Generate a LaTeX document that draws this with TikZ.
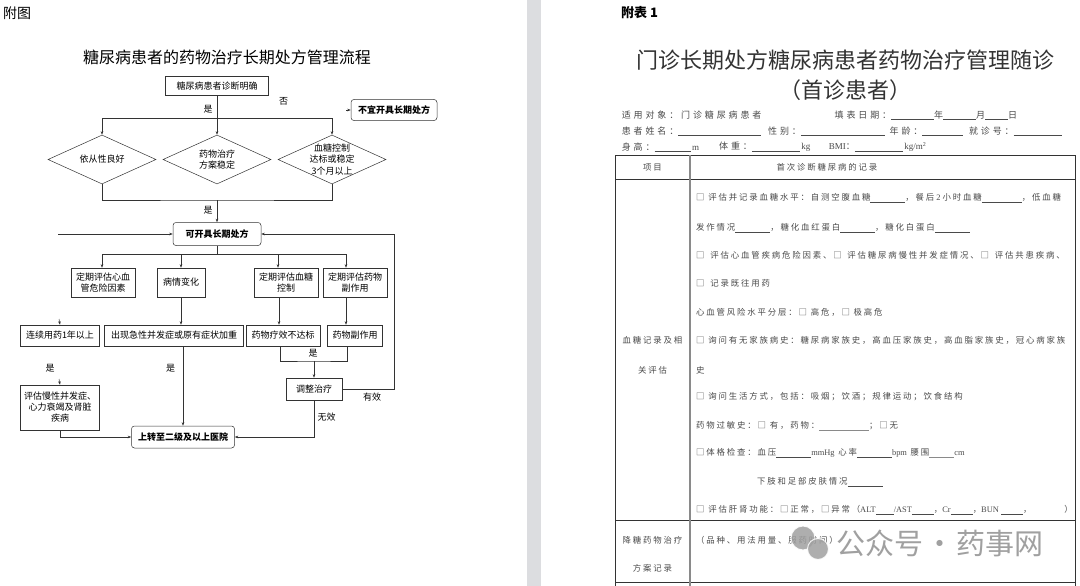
\documentclass[tikz,border=0pt]{standalone}
\usepackage{fontspec}
\setmainfont{Noto Sans CJK SC}
\newfontfamily\formfont[LetterSpace=22]{Noto Sans CJK SC}
\newfontfamily\infofont[LetterSpace=32]{Noto Sans CJK SC}
\newfontfamily\latinfont{Liberation Serif}
\usepackage{xcolor}
\usetikzlibrary{arrows.meta,positioning,shapes.geometric,calc}
\definecolor{sepgray}{HTML}{DCDDE0}
\definecolor{inkgray}{HTML}{333333}
\definecolor{formgray}{HTML}{4A4A4A}
\definecolor{colgray}{HTML}{8A8A8A}
\definecolor{wmgray}{HTML}{A0A0A0}
\newcommand{\blank}[1]{\rule[-1.5pt]{#1pt}{0.6pt}}
\newcommand{\lat}[1]{{\latinfont #1}}

\begin{document}
\begin{tikzpicture}[x=1pt,y=-1pt,
  every node/.style={font=\fontsize{9}{11}\selectfont, text=black},
  >={Stealth[length=3.5pt,width=2.6pt]},
  link/.style={draw=inkgray, line width=0.5pt},
  arrow/.style={link, ->},
  flowbox/.style={draw=inkgray, line width=0.5pt, align=center, inner sep=1pt},
  roundbox/.style={flowbox, rounded corners=3pt, font=\fontsize{9}{11}\selectfont\bfseries},
  decision/.style={diamond, draw=inkgray, line width=0.5pt, inner sep=0pt, minimum width=108pt, minimum height=49pt},
  dtext/.style={align=center, inner sep=0pt, font=\fontsize{9}{11.5}\selectfont},
  lbl/.style={inner sep=0pt},
  info/.style={anchor=west, inner sep=0pt, text=formgray, font=\fontsize{9}{11}\infofont},
  cell/.style={inner sep=0pt, text=formgray, font=\fontsize{8.4}{10}\formfont},
  rowtext/.style={cell, anchor=west},
  watermark/.style={anchor=west, inner sep=0pt, text=wmgray, font=\fontsize{29}{32}\selectfont}]

\fill[white] (0,0) rectangle (1080,586);
\fill[sepgray] (527,0) rectangle (541,586);
\useasboundingbox (0,0) rectangle (1080,586);

\node[lbl, anchor=west, font=\fontsize{14}{16}\selectfont] (fig) at (3,13) {附图};
\node[lbl, font=\fontsize{16}{18}\selectfont] (ctitle) at (227,57) {糖尿病患者的药物治疗长期处方管理流程};

\node[flowbox, minimum width=103pt, minimum height=19pt] (diag) at (217,86) {糖尿病患者诊断明确};
\node[roundbox, minimum width=86pt, minimum height=21pt] (no) at (394,110) {不宜开具长期处方};
\node[lbl] (yes1) at (208,109) {是};
\node[lbl] (no1) at (283.5,101) {否};

\node[decision, label={[dtext]center:依从性良好}] (d1) at (102,159.5) {};
\node[decision, label={[dtext]center:{药物治疗\\方案稳定}}] (d2) at (217,159.5) {};
\node[decision, label={[dtext]center:{血糖控制\\达标或稳定\\3个月以上}}] (d3) at (332,159.5) {};

\coordinate (split) at (217,118);
\coordinate (merge) at (217,200);
\coordinate (nostub) at (346,110);
\draw[link] (diag) -- (split);
\draw[arrow] (split) -| (d1.north);
\draw[arrow] (split) -| (d3.north);
\draw[arrow] (split) -- (d2.north);
\draw[link] (d1.south) |- (merge) -| (d3.south);
\draw[arrow] (nostub) -- (no.west);

\node[lbl] (yes2) at (208,210) {是};
\node[roundbox, minimum width=88pt, minimum height=23pt] (ok) at (217,234) {可开具长期处方};
\draw[arrow] (merge) -- (ok.north);

\node[flowbox, minimum width=64pt, minimum height=29pt] (a1) at (103,282.5) {定期评估心血\\管危险因素};
\node[flowbox, minimum width=48pt, minimum height=29pt] (a2) at (181,282.5) {病情变化};
\node[flowbox, minimum width=64pt, minimum height=29pt] (a3) at (286,282.5) {定期评估血糖\\控制};
\node[flowbox, minimum width=64pt, minimum height=29pt] (a4) at (355,282.5) {定期评估药物\\副作用};

\node[flowbox, minimum width=79pt, minimum height=21pt] (b1) at (60,335.5) {连续用药1年以上};
\node[flowbox, minimum width=139pt, minimum height=21pt] (b2) at (174,335.5) {出现急性并发症或原有症状加重};
\node[flowbox, minimum width=74pt, minimum height=21pt] (b3) at (283,335.5) {药物疗效不达标};
\node[flowbox, minimum width=55pt, minimum height=21pt] (b4) at (355,335.5) {药物副作用};

\node[flowbox, minimum width=79pt, minimum height=45pt] (c1) at (60,407.5) {评估慢性并发症、\\心力衰竭及肾脏\\疾病};
\node[flowbox, minimum width=56pt, minimum height=22pt] (adj) at (314,389) {调整治疗};
\node[roundbox, minimum width=103pt, minimum height=22pt] (up) at (183,437) {上转至二级及以上医院};

\coordinate (leftend) at (58,234);
\coordinate (loop) at (394,234);
\coordinate (fork) at (217,254);
\coordinate (forkL) at (102,254);
\coordinate (forkR) at (346,254);
\coordinate (joinpt) at (314,361);
\coordinate (b1stub) at (59,319);
\coordinate (c1stub) at (59,379);

\draw[arrow] (leftend) -- (ok.west);
\draw[arrow] (adj.east) -| (loop) -- (ok.east);
\draw[link] (ok.south) -- (fork);
\draw[link] (forkL) -- (forkR);
\draw[arrow] (forkL) -- (forkL |- a1.north);
\draw[arrow] (a2.north |- fork) -- (a2.north);
\draw[arrow] ([xshift=-8pt]a3.north |- fork) -- ([xshift=-8pt]a3.north);
\draw[arrow] (forkR) -- (forkR |- a4.north);

\draw[arrow] (a2.south) -- (a2.south |- b2.north);
\draw[arrow] ([xshift=-7pt]a3.south) -- ([xshift=-7pt]a3.south |- b3.north);
\draw[arrow] ([xshift=-9pt]a4.south) -- ([xshift=-9pt]a4.south |- b4.north);
\draw[arrow] (b1stub) -- (b1.north);
\draw[arrow] (c1stub) -- (c1.north);

\draw[link] ([xshift=-3pt]b3.south) |- (joinpt) -| ([xshift=-8pt]b4.south);
\draw[arrow] (joinpt) -- (adj.north);
\draw[arrow] (adj.south) |- (up.east);
\draw[arrow] (b2.south -| up.north) -- (up.north);
\draw[arrow] (c1.south) |- (up.west);

\node[lbl] (yes3) at (313,353) {是};
\node[lbl] (yes4) at (170.5,368) {是};
\node[lbl] (yes5) at (50,368) {是};
\node[lbl] (eff) at (372,397) {有效};
\node[lbl] (noeff) at (326.5,417) {无效};

% right page
\node[lbl, anchor=west, font=\fontsize{13}{15}\selectfont\bfseries] (tab) at (621,13) {附表 1};
\node[lbl, font=\fontsize{22}{24}\selectfont, text=inkgray] (ftitle) at (845.5,60) {门诊长期处方糖尿病患者药物治疗管理随诊};
\node[lbl, font=\fontsize{22}{24}\selectfont, text=inkgray] (fsub) at (845,90) {（首诊患者）};

\node[info] (info1a) at (621.6,115) {适用对象：门诊糖尿病患者};
\node[info] (info1b) at (834.5,115) {填表日期：\blank{43}年\blank{33}月\blank{23}日};
\node[info] (info2a) at (621.6,131) {患者姓名：\blank{83}};
\node[info] (info2b) at (768,131) {性别：\blank{84}};
\node[info] (info2c) at (889.5,131) {年龄：\blank{41}};
\node[info] (info2d) at (968.8,131) {就诊号：\blank{48}};
\node[info] (info3a) at (621.6,147) {身高：\blank{36}\,\lat{m}};
\node[info] (info3b) at (719,147) {体重：\blank{48}\,\lat{kg}};
\node[info] (info3c) at (828.6,147) {\lat{BMI}：\blank{48}\,\lat{kg/m\textsuperscript{2}}};

\draw[draw=inkgray, line width=0.9pt] (615,586) -- (615,155) -- (1075,155) -- (1075,586);
\draw[draw=inkgray, line width=0.9pt] (615,179) -- (1075,179);
\draw[draw=inkgray, line width=0.9pt] (615,520) -- (1075,520);
\draw[draw=inkgray, line width=0.9pt] (615,582) -- (1075,582);
\draw[draw=colgray, line width=2pt] (690,155) -- (690,586);

\node[cell] (h1) at (652.5,167) {项目};
\node[cell] (h2) at (827,167) {首次诊断糖尿病的记录};
\node[cell] (l1) at (652.5,340) {血糖记录及相};
\node[cell] (l2) at (652.5,370) {关评估};
\node[cell] (l3) at (652.5,540) {降糖药物治疗};
\node[cell] (l4) at (652.5,568) {方案记录};

\node[rowtext] (r1) at (696,198) {□ 评估并记录血糖水平：自测空腹血糖\blank{35}，餐后\lat{ 2 }小时血糖\blank{40}，低血糖};
\node[rowtext] (r2) at (696,228) {发作情况\blank{35}，糖化血红蛋白\blank{35}，糖化白蛋白\blank{35}};
\node[rowtext] (r3) at (696,255) {□\hspace{2pt} 评估心血管疾病危险因素、□\hspace{2pt} 评估糖尿病慢性并发症情况、□\hspace{2pt} 评估共患疾病、};
\node[rowtext] (r4) at (696,283) {□\hspace{2pt} 记录既往用药};
\node[rowtext] (r5) at (696,312) {心血管风险水平分层：□ 高危，□ 极高危};
\node[rowtext] (r6) at (696,340) {□ 询问有无家族病史：糖尿病家族史，高血压家族史，高血脂家族史，冠心病家族};
\node[rowtext] (r7) at (696,370) {史};
\node[rowtext] (r8) at (696,397) {□ 询问生活方式，包括：吸烟；饮酒；规律运动；饮食结构};
\node[rowtext] (r9) at (696,426) {药物过敏史：□ 有，药物：\textcolor{colgray}{\blank{50}}；□无};
\node[rowtext] (r10) at (696,453) {□体格检查：血压\blank{35}\lat{mmHg} 心率\blank{35}\lat{bpm} 腰围\textcolor{colgray}{\blank{25}}\lat{cm}};
\node[rowtext] (r11) at (757,482) {下肢和足部皮肤情况\blank{35}};
\node[rowtext] (r12) at (696,510) {□ 评估肝肾功能：□正常，□异常（\lat{ALT}\blank{18}\lat{/AST}\blank{22}，\lat{Cr}\blank{22}，\lat{BUN }\blank{22}，\hspace{33pt}）};
\node[rowtext] (r13) at (696,540) {（品种、用法用量、服药时间）};

\fill[wmgray, opacity=0.85, draw=white, line width=1pt] (803,538) circle (12);
\fill[wmgray, opacity=0.85, draw=white, line width=1pt] (818,549) circle (10.5);
\node[watermark] (wm) at (836,543) {公众号\hspace{2pt}·\hspace{2pt}药事网};
\end{tikzpicture}
\end{document}
